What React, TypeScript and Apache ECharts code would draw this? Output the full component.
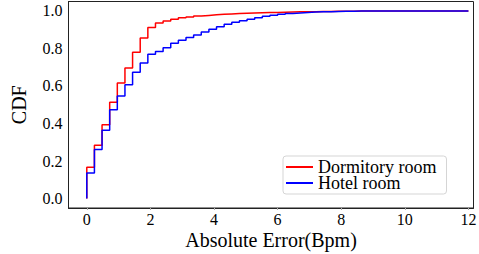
import React, { useEffect, useRef } from "react";
import * as echarts from "echarts";

const errorBins = [0, 0.24, 0.48, 0.72, 0.96, 1.2, 1.44, 1.68, 1.92, 2.16, 2.4, 2.64, 2.88, 3.12, 3.36, 3.6, 3.84, 4.08, 4.32, 4.56, 4.8, 5.04, 5.28, 5.52, 5.76, 6.0, 6.24, 6.48, 6.72, 6.96, 7.2, 7.44, 7.68, 7.92, 8.16, 8.4, 8.64, 8.88, 9.12, 9.36, 9.6, 9.84, 10.08, 10.32, 10.56, 10.8, 11.04, 11.28, 11.52, 11.76, 12.0];

const dormitoryCdf = [0.167, 0.284, 0.394, 0.513, 0.616, 0.696, 0.78, 0.856, 0.912, 0.936, 0.946, 0.955, 0.963, 0.968, 0.973, 0.976, 0.979, 0.982, 0.984, 0.986, 0.988, 0.989, 0.99, 0.991, 0.992, 0.993, 0.994, 0.995, 0.996, 0.996, 0.997, 0.997, 0.998, 0.998, 0.998, 0.999, 0.999, 0.999, 0.999, 0.999, 0.999, 1, 1, 1, 1, 1, 1, 1, 1, 1, 1];

const hotelCdf = [0.137, 0.261, 0.364, 0.474, 0.547, 0.607, 0.673, 0.723, 0.769, 0.783, 0.804, 0.827, 0.843, 0.858, 0.872, 0.887, 0.902, 0.916, 0.929, 0.939, 0.948, 0.956, 0.964, 0.971, 0.977, 0.982, 0.986, 0.989, 0.992, 0.994, 0.995, 0.996, 0.997, 0.998, 0.998, 0.999, 0.999, 0.999, 1, 1, 1, 1, 1, 1, 1, 1, 1, 1, 1, 1, 1];

const xTicks = [0, 2, 4, 6, 8, 10, 12];
const yTicks = [0, 0.2, 0.4, 0.6, 0.8, 1.0];
const xTickLabels = ["0", "2", "4", "6", "8", "10", "12"];
const yTickLabels = ["0.0", "0.2", "0.4", "0.6", "0.8", "1.0"];

const seriesNames = ["Dormitory room", "Hotel room"];
const FONT = "Liberation Serif";

function toSteps(cdf: number[]) {
  const pts: number[][] = [[errorBins[0], 0]];
  cdf.forEach((v, i) => pts.push([errorBins[i], v]));
  return pts;
}

export default function App() {
  const ref = useRef<HTMLDivElement>(null);
  useEffect(() => {
    if (!ref.current) return;
    const chart = echarts.init(ref.current, null, { renderer: "svg" });
    chart.setOption({
      animation: false,
      textStyle: { fontFamily: FONT, color: "#000" },
      grid: {
        left: 68.5,
        right: 5.5,
        top: 1.5,
        bottom: 46,
        containLabel: false,
        outerBoundsMode: "none",
        show: true,
        borderColor: "#222",
        borderWidth: 1,
        backgroundColor: "transparent",
      },
      legend: {
        data: seriesNames,
        orient: "vertical",
        left: 283,
        top: 156,
        padding: [2, 10, 2, 3],
        itemGap: -2,
        itemWidth: 27,
        itemHeight: 2,
        icon: "rect",
        backgroundColor: "#fff",
        borderColor: "#d5d5d5",
        borderWidth: 1,
        borderRadius: 3,
        textStyle: { fontFamily: FONT, fontSize: 18, color: "#000", lineHeight: 17.6 },
      },
      xAxis: {
        type: "value",
        min: -0.575,
        max: 12.16,
        name: "Absolute Error(Bpm)",
        nameLocation: "middle",
        nameGap: 22,
        nameTextStyle: { fontFamily: FONT, fontSize: 20, color: "#000" },
        axisLine: { show: true, onZero: false, lineStyle: { color: "#222", width: 1 } },
        axisTick: { show: true, length: 2, customValues: xTicks, lineStyle: { color: "#aaa" } },
        axisLabel: { show: false },
        splitLine: { show: false },
      },
      yAxis: {
        type: "value",
        min: -0.05,
        max: 1.05,
        name: "CDF",
        nameLocation: "middle",
        nameGap: 40,
        nameTextStyle: { fontFamily: FONT, fontSize: 20, color: "#000" },
        axisLine: { show: true, onZero: false, lineStyle: { color: "#222", width: 1 } },
        axisTick: { show: false },
        axisLabel: { show: false },
        splitLine: { show: false },
      },
      series: [
        {
          name: seriesNames[0],
          type: "line",
          step: "end",
          data: toSteps(dormitoryCdf),
          showSymbol: false,
          symbol: "none",
          color: "#ff0000",
          lineStyle: { color: "#ff0000", width: 1.5 },
        },
        {
          name: seriesNames[1],
          type: "line",
          step: "end",
          data: toSteps(hotelCdf),
          showSymbol: false,
          symbol: "none",
          color: "#0000ff",
          lineStyle: { color: "#0000ff", width: 1.5 },
        },
      ],
    });

    const labels: any[] = [];
    xTicks.forEach((v, i) => {
      const p = chart.convertToPixel({ gridIndex: 0 }, [v, -0.05]) as number[];
      labels.push({
        type: "text",
        x: p[0],
        y: p[1] + 3,
        style: {
          text: xTickLabels[i],
          fontFamily: FONT,
          fontSize: 16,
          fill: "#000",
          align: "center",
          verticalAlign: "top",
        },
      });
    });
    yTicks.forEach((v, i) => {
      const p = chart.convertToPixel({ gridIndex: 0 }, [-0.575, v]) as number[];
      labels.push({
        type: "text",
        x: p[0] - 6,
        y: p[1],
        style: {
          text: yTickLabels[i],
          fontFamily: FONT,
          fontSize: 16,
          fill: "#000",
          align: "right",
          verticalAlign: "middle",
        },
      });
    });
    chart.setOption({ graphic: labels });

    return () => chart.dispose();
  }, []);
  return (
    <div
      ref={ref}
      style={{ position: "fixed", left: 0, top: 0, width: 479, height: 254, background: "#fff" }}
    />
  );
}
